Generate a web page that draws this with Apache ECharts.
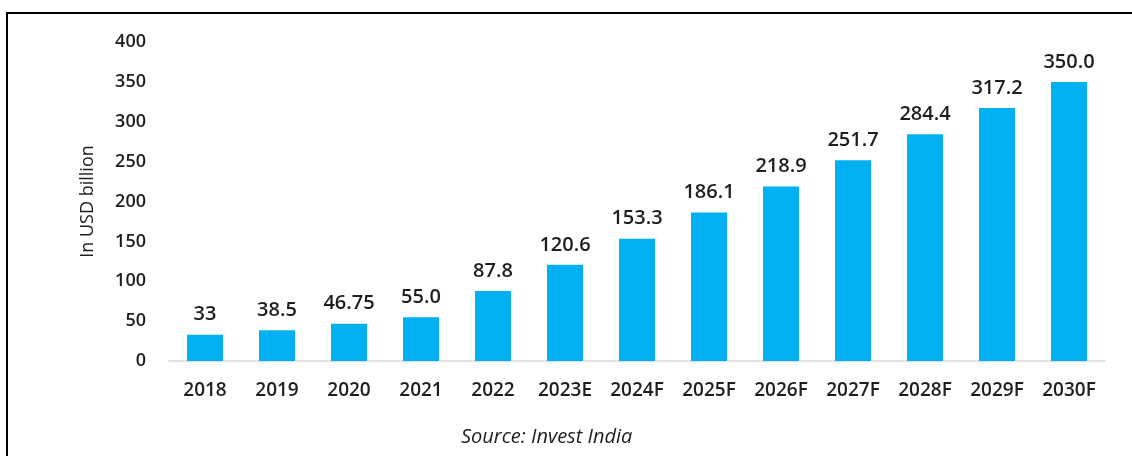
<!DOCTYPE html>
<html>
<head>
<meta charset="utf-8">
<script src="https://cdn.jsdelivr.net/npm/echarts@6/dist/echarts.min.js"></script>
<style>
html,body{margin:0;padding:0;background:#fff;}
#c{width:1132px;height:456px;}
</style>
</head>
<body>
<div id="c"></div>
<script>
var categories = ['2018','2019','2020','2021','2022','2023E','2024F','2025F','2026F','2027F','2028F','2029F','2030F'];
var values = [33, 38.5, 46.75, 55.0, 87.8, 120.6, 153.3, 186.1, 218.9, 251.7, 284.4, 317.2, 350.0];
var valueLabels = ['33','38.5','46.75','55.0','87.8','120.6','153.3','186.1','218.9','251.7','284.4','317.2','350.0'];
var yTicks = [0, 50, 100, 150, 200, 250, 300, 350, 400];
var sourceText = 'Source: Invest India';
var yAxisTitle = 'In USD billion';

var font = '"Open Sans", "Noto Sans", sans-serif';
var chart = echarts.init(document.getElementById('c'), null, {renderer: 'canvas'});
chart.setOption({
  animation: false,
  backgroundColor: '#fff',
  grid: {left: 169, right: 27, top: 42, bottom: 95},
  xAxis: {
    type: 'category',
    data: categories,
    axisLine: {lineStyle: {color: '#d9d9d9', width: 1.5}},
    axisTick: {show: false},
    axisLabel: {color: '#1e1e1e', fontSize: 19, fontWeight: 600, fontFamily: font, margin: 20}
  },
  yAxis: {
    type: 'value',
    min: yTicks[0],
    max: yTicks[yTicks.length - 1],
    interval: 50,
    name: yAxisTitle,
    nameLocation: 'middle',
    nameRotate: 90,
    nameGap: 72,
    nameTextStyle: {color: '#1e1e1e', fontSize: 18, fontFamily: font},
    axisLine: {show: false},
    axisTick: {show: false},
    splitLine: {show: false},
    axisLabel: {color: '#1e1e1e', fontSize: 18, fontWeight: 600, fontFamily: font, margin: 23}
  },
  series: [{
    type: 'bar',
    data: values,
    barWidth: '50%',
    itemStyle: {color: '#00B0F0'},
    label: {
      show: true,
      position: 'top',
      distance: 10,
      color: '#1e1e1e',
      fontSize: 20,
      fontWeight: 600,
      fontFamily: font,
      formatter: function (p) { return valueLabels[p.dataIndex]; }
    }
  }],
  graphic: [
    {type: 'line', shape: {x1: 6, y1: 13, x2: 1132, y2: 13}, style: {stroke: '#000', lineWidth: 2}},
    {type: 'line', shape: {x1: 7, y1: 12, x2: 7, y2: 456}, style: {stroke: '#000', lineWidth: 2}},
    {type: 'text', left: 461, top: 427, style: {text: sourceText, fill: '#1e1e1e', fontSize: 20, fontStyle: 'italic', fontFamily: font}}
  ]
});
</script>
</body>
</html>
